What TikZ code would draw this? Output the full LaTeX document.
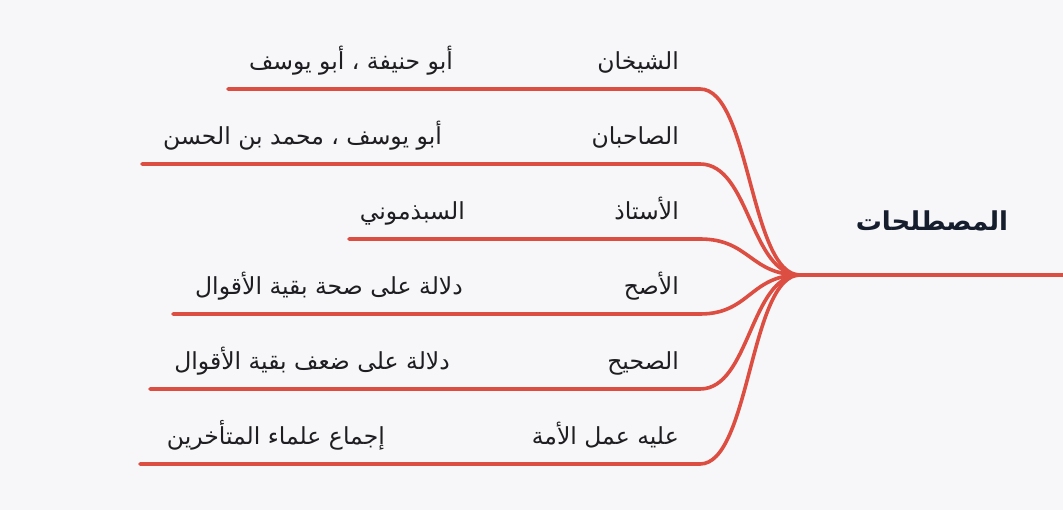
\documentclass[tikz,border=0pt]{standalone}
\usepackage{fontspec}
\newfontfamily\ar[Script=Arabic]{DejaVu Sans}
\TeXXeTstate=1
\definecolor{bg}{RGB}{247,247,249}
\definecolor{branchred}{RGB}{221,78,66}
\definecolor{txt}{RGB}{30,30,34}
\definecolor{roottxt}{RGB}{22,30,46}
\tikzset{
  term/.style={inner sep=0pt, text=txt, font=\ar\fontsize{23.5}{27}\selectfont},
  rootlabel/.style={inner sep=0pt, text=roottxt, font=\ar\bfseries\fontsize{26}{30}\selectfont},
  branch/.style={draw=branchred, line width=3.6pt, line cap=round},
}
\begin{document}
\begin{tikzpicture}[x=1pt,y=-1pt]
\fill[bg] (0,0) rectangle (1063,510);
\useasboundingbox (0,0) rectangle (1063,510);
\coordinate (J) at (800,275);
\coordinate (R) at (1063,275);
\node[rootlabel] (root) at (932,221) {\beginR المصطلحات\endR};
% terms
\node[term, anchor=base east] (t1) at (679,70) {\beginR الشيخان\endR};
\node[term, anchor=base east] (t2) at (679,145) {\beginR الصاحبان\endR};
\node[term, anchor=base east] (t3) at (679,220) {\beginR الأستاذ\endR};
\node[term, anchor=base east] (t4) at (679,295) {\beginR الأصح\endR};
\node[term, anchor=base east] (t5) at (679,370) {\beginR الصحيح\endR};
\node[term, anchor=base east] (t6) at (679,445) {\beginR عليه عمل الأمة\endR};
% values
\node[term, anchor=base east] (v1) at (453,70) {\beginR أبو حنيفة ، أبو يوسف\endR};
\node[term, anchor=base east] (v2) at (442,145) {\beginR أبو يوسف ، محمد بن الحسن\endR};
\node[term, anchor=base east] (v3) at (465,220) {\beginR السبذموني\endR};
\node[term, anchor=base east] (v4) at (463,295) {\beginR دلالة على صحة بقية الأقوال\endR};
\node[term, anchor=base east] (v5) at (450,370) {\beginR دلالة على ضعف بقية الأقوال\endR};
\node[term, anchor=base east] (v6) at (385,445) {\beginR إجماع علماء المتأخرين\endR};
% line ends
\foreach \i/\y/\x in {1/89/228,2/164/142,3/239/349,4/314/173,5/389/150,6/464/140}{
  \coordinate (e\i) at (\x,\y);
  \coordinate (c\i) at (700,\y);
  \coordinate (k\i) at (750,\y);
}
\draw[branch] (J) -- (R);
\foreach \i in {1,...,6}{
  \draw[branch] (J) .. controls (750,275) and (k\i) .. (c\i) -- (e\i);
}
\end{tikzpicture}
\end{document}
